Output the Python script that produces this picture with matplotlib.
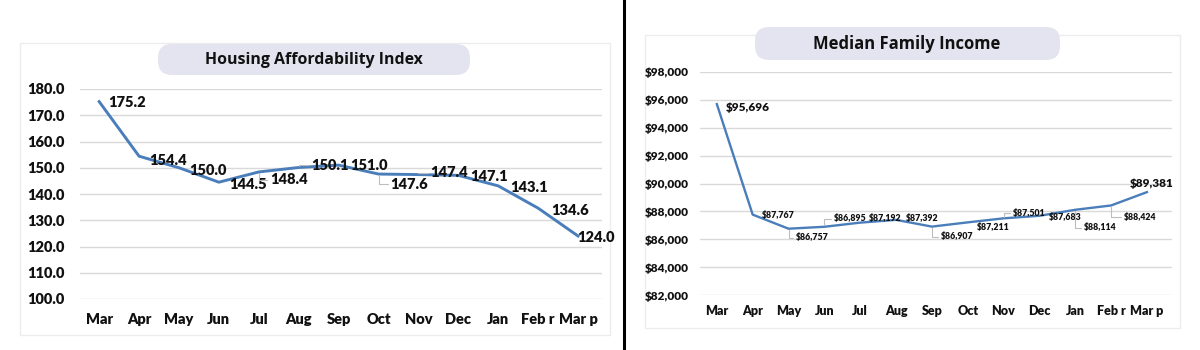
import matplotlib.pyplot as plt
from matplotlib.patches import FancyBboxPatch, Rectangle
from matplotlib.ticker import FuncFormatter

# Data
MONTHS = ["Mar", "Apr", "May", "Jun", "Jul", "Aug", "Sep", "Oct", "Nov", "Dec", "Jan", "Feb r", "Mar p"]
HAI = [175.2, 154.4, 150.0, 144.5, 148.4, 150.1, 151.0, 147.6, 147.4, 147.1, 143.1, 134.6, 124.0]
INCOME = [95696, 87767, 86757, 86895, 87192, 87392, 86907, 87211, 87501, 87683, 88114, 88424, 89381]

# Label placement (pixel offsets from the point, y up) and which labels get leader lines
HAI_OFFSETS = [(28, -1), (29, -4), (29, -3), (29, -2), (30, -8), (31, 2), (30, 0),
               (31, -10), (31, 2), (31, -1), (31, -2), (32, -2), (18, -2)]
HAI_LEADERS = [4, 5, 7, 8]
INC_OFFSETS = [(31, -3), (26, -1), (24, -9), (26, 8), (25, 4), (26, 1), (25, -10),
               (26, -5), (26, 5), (26, -2), (25, -18), (29, -12), (5, 9)]
INC_LEADERS = [2, 3, 6, 8, 10, 11]

LINE_COLOR = "#4a7ebb"
GRID_COLOR = "#d9d9d9"
PILL_COLOR = "#e4e4f0"
NUM_FONT = "Lato"
NUM_WEIGHT = "heavy"
TITLE_FONT = "Open Sans"

W, H = 1200, 350
fig = plt.figure(figsize=(12, 3.5), dpi=100)

# background layer in pixel coordinates for panels, pills and separator
bg = fig.add_axes([0, 0, 1, 1], zorder=-1)
bg.set_xlim(0, W)
bg.set_ylim(H, 0)
bg.axis("off")

bg.add_patch(Rectangle((20, 43), 590, 292, fill=False, ec="#ececec", lw=1))
bg.add_patch(Rectangle((645, 35), 535, 293, fill=False, ec="#ececec", lw=1))
bg.plot([624, 624], [0, H], color="black", lw=2.2)

bg.add_patch(FancyBboxPatch((158, 44), 312, 31, boxstyle="round,pad=0,rounding_size=14",
                            fc=PILL_COLOR, ec="none"))
bg.add_patch(FancyBboxPatch((755, 27), 305, 33, boxstyle="round,pad=0,rounding_size=14",
                            fc=PILL_COLOR, ec="none"))
bg.text(314, 60, "Housing Affordability Index", ha="center", va="center",
        fontsize=11.4, fontweight="bold", family=TITLE_FONT, color="#111111")
bg.text(907, 44, "Median Family Income", ha="center", va="center",
        fontsize=12, fontweight="bold", family=TITLE_FONT, color="#111111")


def style_axes(ax, fs_y, fs_x, pad_y, pad_x):
    ax.set_facecolor("none")
    for s in ax.spines.values():
        s.set_visible(False)
    ax.grid(axis="y", color=GRID_COLOR, lw=1)
    ax.set_axisbelow(True)
    ax.tick_params(axis="both", length=0)
    ax.tick_params(axis="y", pad=pad_y)
    ax.tick_params(axis="x", pad=pad_x)
    ax.set_xticks(range(len(MONTHS)))
    ax.set_xticklabels(MONTHS)
    for lbl in ax.get_yticklabels():
        lbl.set_fontsize(fs_y)
    for lbl in ax.get_xticklabels():
        lbl.set_fontsize(fs_x)
    for lbl in ax.get_xticklabels() + ax.get_yticklabels():
        lbl.set_family(NUM_FONT)
        lbl.set_fontweight(NUM_WEIGHT)
        lbl.set_color("#111111")


leader = dict(arrowstyle="-", color="#bdbdbd", lw=0.8, shrinkA=0, shrinkB=1,
              connectionstyle="angle,angleA=0,angleB=90,rad=0")

# Left chart: Housing Affordability Index
ax1 = fig.add_axes([80 / W, 1 - 299 / H, 522 / W, 210 / H])
x = range(len(HAI))
ax1.plot(x, HAI, color=LINE_COLOR, lw=2.1, solid_joinstyle="round")
ax1.set_ylim(100, 180)
ax1.set_xlim(-0.48, 12.6)
ax1.set_yticks(range(100, 181, 10))
ax1.yaxis.set_major_formatter(FuncFormatter(lambda v, p: f"{v:.1f}"))
style_axes(ax1, 10.5, 10.5, 11, 10)
for i, v in enumerate(HAI):
    ax1.annotate(f"{v:.1f}", (i, v), xytext=HAI_OFFSETS[i], textcoords="offset pixels",
                 ha="center", va="center", fontsize=10.5, fontweight=NUM_WEIGHT,
                 family=NUM_FONT, color="#111111",
                 arrowprops=leader if i in HAI_LEADERS else None)

# Right chart: Median Family Income
ax2 = fig.add_axes([700 / W, 1 - 295 / H, 472 / W, 223 / H])
ax2.plot(x, INCOME, color=LINE_COLOR, lw=1.7, solid_joinstyle="round")
ax2.set_ylim(82000, 98000)
ax2.set_xlim(-0.47, 12.7)
ax2.set_yticks(range(82000, 98001, 2000))
ax2.yaxis.set_major_formatter(FuncFormatter(lambda v, p: f"${v:,.0f}"))
style_axes(ax2, 8.5, 9, 8, 7)
for i, v in enumerate(INCOME):
    big = i in (0, len(INCOME) - 1)
    ax2.annotate(f"${v:,}", (i, v), xytext=INC_OFFSETS[i], textcoords="offset pixels",
                 ha="center", va="center", fontsize=8.5 if big else 6.3,
                 fontweight=NUM_WEIGHT, family=NUM_FONT, color="#111111",
                 arrowprops=leader if i in INC_LEADERS else None)

fig.savefig("out.png", dpi=100, facecolor="white")
